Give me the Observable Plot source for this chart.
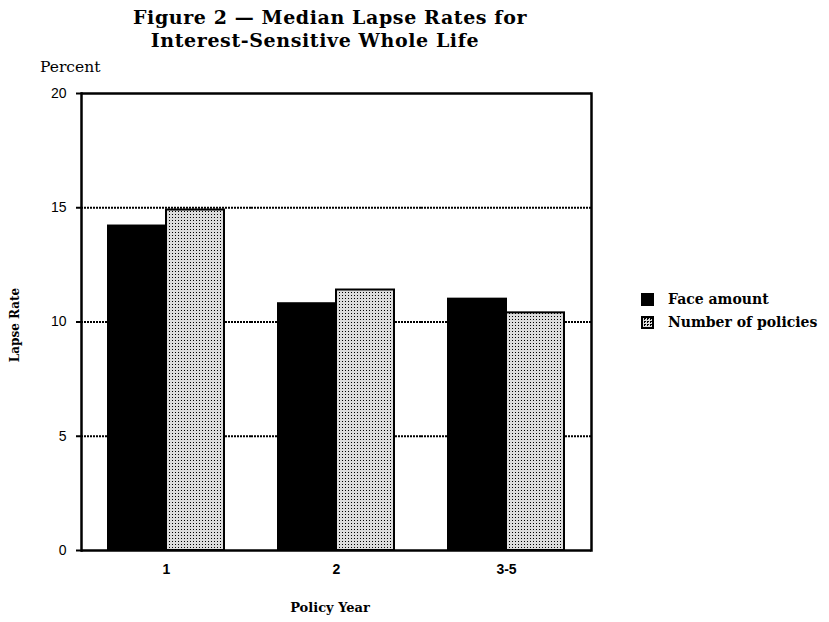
<!DOCTYPE html>
<html>
<head>
<meta charset="utf-8">
<script src="https://cdn.jsdelivr.net/npm/d3@7"></script>
<script src="https://cdn.jsdelivr.net/npm/@observablehq/plot@0.6"></script>
<style>
  html, body { margin: 0; padding: 0; background: #fff; }
  #page { position: relative; width: 829px; height: 622px; overflow: hidden; font-family: "DejaVu Serif", serif; color: #000; }
  #titleblock { position: relative; height: 55px; }
  #title { position: absolute; left: 130px; width: 400px; top: 6px; font-family: "DejaVu Serif", serif; font-weight: bold; font-size: 19px; line-height: 23px; white-space: nowrap; text-align: center; letter-spacing: 0.6px; }
  .lbl { position: absolute; white-space: nowrap; }
  .legend-item { position: absolute; display: flex; align-items: center; font-family: "DejaVu Serif", serif; font-weight: bold; font-size: 14px; white-space: nowrap; }
  .sw { width: 13px; height: 13px; margin-right: 14px; box-sizing: border-box; }
  #chart svg { display: block; }
</style>
</head>
<body>
<div id="page">
  <div id="titleblock">
    <div id="title">Figure 2 — Median Lapse Rates for<br><span style="position:relative; left:-15px;">Interest-Sensitive Whole Life</span></div>
  </div>
  <div id="chart"></div>
  <div class="lbl" style="left:40px; top:58px; font-size:15.5px; font-family:'DejaVu Serif',serif;">Percent</div>
  <div class="lbl" style="left:-23px; top:318px; font-size:12px; font-weight:bold; transform: rotate(-90deg); transform-origin: center; width:76px; text-align:center;">Lapse Rate</div>
  <div class="lbl" style="left:230px; width:200px; text-align:center; top:600px; font-size:13px; font-weight:bold;">Policy Year</div>
  <div id="legend"></div>
</div>
<script>
// ---- data ----
const years = ["1", "2", "3-5"];
const seriesNames = ["Face amount", "Number of policies"];
const faceAmount = [14.2, 10.8, 11.0];
const numberOfPolicies = [14.9, 11.4, 10.4];
const yTicks = [0, 5, 10, 15, 20];
const gridValues = [5, 10, 15];
const frameValues = [0, 20];

const data = [];
years.forEach((y, i) => {
  data.push({year: y, series: seriesNames[0], value: faceAmount[i]});
  data.push({year: y, series: seriesNames[1], value: numberOfPolicies[i]});
});

const plot = Plot.plot({
  width: 829,
  height: 567,
  marginLeft: 80,
  marginRight: 237,
  marginTop: 38,
  marginBottom: 72,
  style: {fontFamily: "'Liberation Sans', Arial, sans-serif", fontSize: "14px", color: "#000", background: "#fff"},
  fx: {domain: years, padding: 0},
  x: {domain: seriesNames, axis: null, paddingInner: 0, paddingOuter: 0.46},
  y: {domain: [0, 20]},
  color: {domain: seriesNames, range: ["#000", "url(#dots)"]},
  marks: [
    Plot.ruleY(gridValues, {stroke: "#000", strokeWidth: 2.2, strokeDasharray: "2,1"}),
    Plot.barY(data, {fx: "year", x: "series", y: "value", fill: "series", stroke: "#000", strokeWidth: 2}),
    Plot.ruleY(frameValues, {stroke: "#000", strokeWidth: 2.5}),
    Plot.frame({anchor: "left", facetAnchor: "left", stroke: "#000", strokeWidth: 2.5}),
    Plot.frame({anchor: "right", facetAnchor: "right", stroke: "#000", strokeWidth: 2.5}),
    Plot.axisY({ticks: yTicks, tickSize: 5, tickPadding: 10, label: null, fontSize: 14, strokeWidth: 2}),
    Plot.axisFx({anchor: "bottom", tickSize: 0, tickPadding: 14, label: null, fontWeight: "bold", fontSize: 14})
  ]
});

// pattern definition for the dotted series
const ns = "http://www.w3.org/2000/svg";
const defs = document.createElementNS(ns, "defs");
defs.innerHTML = '<pattern id="dots" width="3" height="3" patternUnits="userSpaceOnUse">' +
  '<rect width="3" height="3" fill="#dcdcdc"/><rect width="1" height="1" fill="#000"/></pattern>';
plot.insertBefore(defs, plot.firstChild);
document.getElementById("chart").appendChild(plot);

// legend
const legend = document.getElementById("legend");
const swatchStyles = [
  "background:#000;",
  "border:2px solid #000; background: repeating-conic-gradient(#000 0 25%, #dcdcdc 0 100%) 0 0/3px 3px;"
];
seriesNames.forEach((name, i) => {
  const item = document.createElement("div");
  item.className = "legend-item";
  item.style.left = "641px";
  item.style.top = (291 + i * 23) + "px";
  item.innerHTML = '<div class="sw" style="' + swatchStyles[i] + '"></div><span>' + name + '</span>';
  legend.appendChild(item);
});
</script>
</body>
</html>
